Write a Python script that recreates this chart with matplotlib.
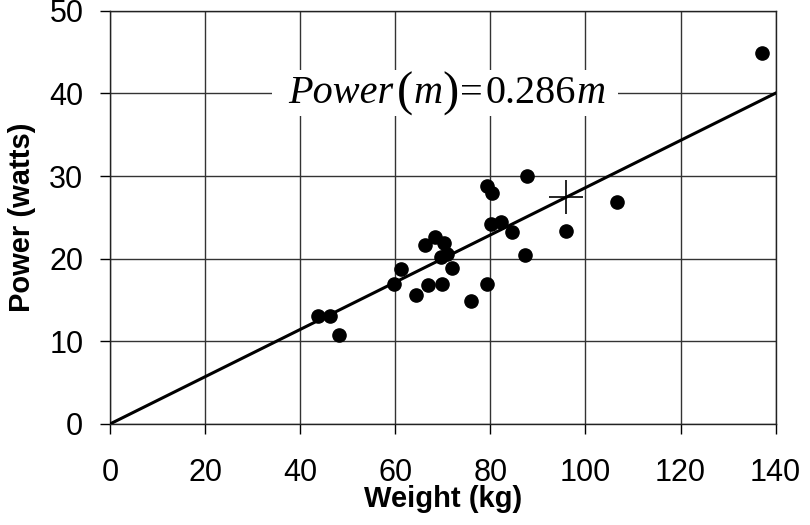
import numpy as np
import matplotlib.pyplot as plt
from matplotlib.patches import Rectangle

plt.rcParams['font.family'] = ['Liberation Sans', 'DejaVu Sans']

# data
weight = [87.7, 79.3, 80.3, 80.2, 82.3, 84.6, 87.2, 66.2, 68.3, 70.2, 70.9,
          69.7, 72.0, 61.2, 59.8, 66.9, 69.8, 64.3, 76.0, 79.3, 43.8, 46.2,
          48.1, 137.2, 106.6, 95.9]
power = [30.0, 28.8, 28.0, 24.2, 24.4, 23.2, 20.5, 21.6, 22.6, 21.9, 20.6,
         20.2, 18.9, 18.7, 16.9, 16.8, 17.0, 15.6, 14.9, 17.0, 13.1, 13.1,
         10.8, 44.9, 26.9, 23.4]
slope = 0.286
fit_range = [0, 140]
mean_pt = [96.0, 27.5]

fig = plt.figure(figsize=(8.1, 5.25), dpi=100)
ax = fig.add_axes([0.1358, 0.1924, 0.8218, 0.787])

m = np.array(fit_range)
ax.plot(m, slope * m, color='black', lw=2.2, zorder=3)
ax.plot(weight, power, 'o', color='black', ms=9.5, zorder=4)
ax.plot(mean_pt[0], mean_pt[1], '+', color='black', ms=25, mew=1.2, zorder=4)

# equation label, white box over the gridline, big upright parentheses
ax.add_patch(Rectangle((34.1, 37.3), 72.7, 5.5, facecolor='white',
                       edgecolor='none', zorder=2))
serif = 'Liberation Serif'
pieces = [('Power', 'italic', 29, 0), ('(', 'normal', 35, 3),
          ('m', 'italic', 29, 0), (')', 'normal', 35, 0),
          ('=', 'normal', 29, 1), ('0.286', 'normal', 29, 2),
          ('m', 'italic', 29, 0)]
prev = ax.text(37.4, 40, pieces[0][0], family=serif, style=pieces[0][1],
               fontsize=pieces[0][2], ha='left', va='center', zorder=3)
for txt, st, fs, gap in pieces[1:]:
    prev = ax.annotate(txt, xy=(1, 0.5), xycoords=prev,
                       xytext=(gap, 0), textcoords='offset points',
                       family=serif, style=st, fontsize=fs,
                       ha='left', va='center', zorder=3)

ax.set_xlim(0, 140)
ax.set_ylim(0, 50)
ax.set_xticks(range(0, 141, 20))
ax.set_yticks(range(0, 51, 10))
ax.grid(True, color='#333333', lw=1.0, zorder=0)
ax.set_axisbelow(True)
ax.tick_params(direction='out', length=7.2, width=1, labelsize=22)
ax.tick_params(axis='x', pad=17)
ax.tick_params(axis='y', pad=12)
for s in ax.spines.values():
    s.set_color('#222222')
    s.set_linewidth(1.0)

ax.set_xlabel('Weight (kg)', fontsize=21, fontweight='bold')
ax.set_ylabel('Power (watts)', fontsize=21, fontweight='bold')
ax.xaxis.set_label_coords(0.5, -0.147)
ax.yaxis.set_label_coords(-0.111, 0.5)

plt.savefig('out.png', dpi=100)
